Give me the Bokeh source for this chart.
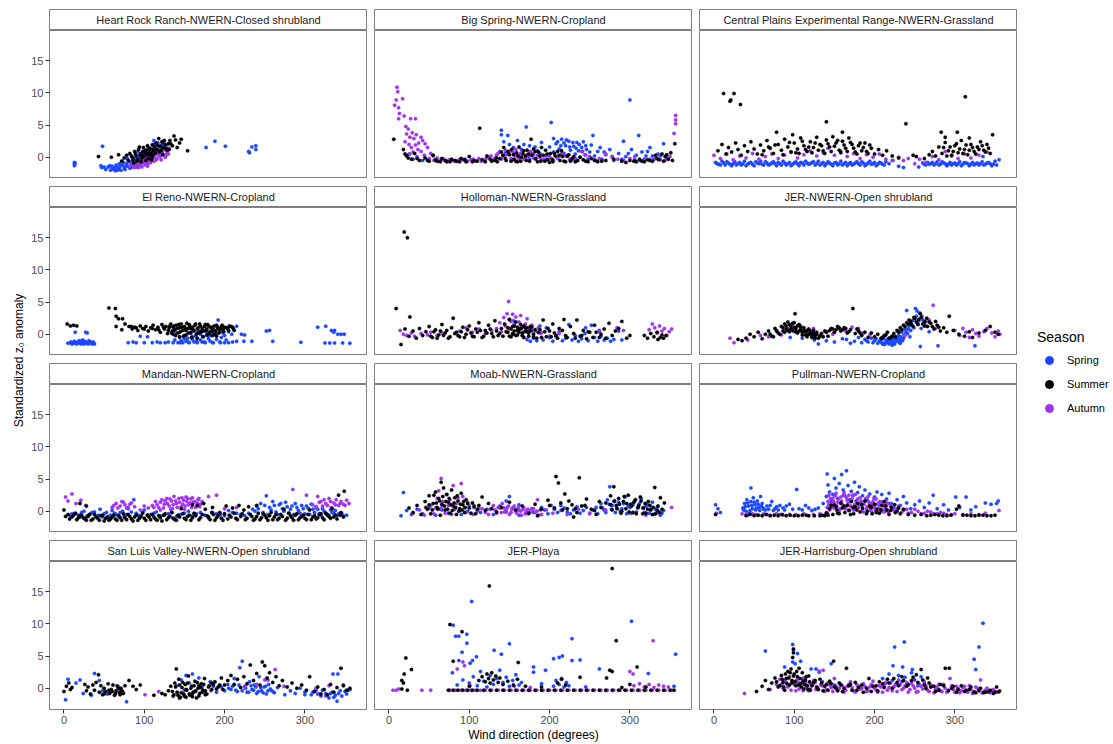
from bokeh.plotting import figure
from bokeh.layouts import row, column
from bokeh.models import Range1d, FixedTicker, LinearAxis, Legend, LegendItem, Label
from bokeh.embed import file_html
from bokeh.resources import INLINE

FONT = "Liberation Sans"
SEASONS = ["Spring", "Summer", "Autumn"]
COLORS = {"Spring": "#1a47ff", "Summer": "#000000", "Autumn": "#a033f0"}
Y_TICKS = [0, 5, 10, 15]
X_TICKS = [0, 100, 200, 300]

# ---------------- data: (wind direction, standardized z0 anomaly) ----------------
hr_spring = [(13,-0.8),(13,-1.1),(13,-1.3),(14,-0.9),(48,1.7),(46,-1.3),(47,-1.6),(52,-1.9),(55,-1.5),(58,-2.0),(60,-1.7),(62,-1.9),(64,-2.1),(66,-1.6),(68,-1.8),(70,-1.4),(71,-2.0),(73,-1.2),(75,-1.6),(76,-1.9),(78,-1.0),(80,-1.4),(82,-1.7),(83,-0.8),(85,-1.2),(86,-0.5),(88,-1.0),(90,-0.3),(91,-1.5),(93,0.2),(95,-0.6),(96,0.6),(98,-0.2),(100,1.0),(101,-1.0),(103,0.3),(105,1.4),(107,0.0),(109,0.8),(111,2.0),(112,2.6),(114,2.1),(116,1.2),(118,0.5),(120,1.6),(124,2.3),(128,1.9),(72,-0.6),(79,-0.2),(92,0.9),(50,-1.5),(57,-1.3),(177,1.5),(188,2.5),(201,1.7),(230,0.9),(231,0.7),(234,1.6),(239,1.8),(239,1.2),
             (60,-1.4),(65,-1.2),(69,-1.0),(74,-0.8),(77,-1.4),(81,-0.6),(84,-1.6),(87,-0.2),(89,-1.3),(94,-0.3),(97,0.3),(99,-0.8),(102,0.6),(106,0.5),(110,1.2),(113,1.5),(117,2.2),(122,2.0),(63,-1.6),(67,-2.0)]
hr_summer = [(43,0.1),(59,0.0),(68,0.4),(72,-0.6),(75,-0.1),(78,0.3),(80,-0.5),(82,0.6),(85,0.0),(87,-0.9),(88,0.9),(90,0.2),(92,-0.3),(93,1.2),(95,0.5),(96,-0.7),(98,0.9),(99,1.5),(100,0.1),(102,1.1),(103,0.6),(104,1.8),(105,-0.2),(106,0.9),(107,1.4),(108,0.3),(110,1.9),(111,1.0),(112,0.5),(113,1.6),(115,2.2),(116,1.2),(118,2.9),(119,0.8),(120,1.7),(122,2.4),(124,1.5),(126,2.0),(128,1.1),(130,2.1),(132,2.6),(135,1.8),(137,3.3),(139,2.7),(141,1.5),(144,2.2),(146,2.8),(154,1.0),(97,-0.1),(101,0.7),(109,-0.4),(94,1.6),
             (98,0.3),(102,-0.5),(104,0.4),(106,1.2),(108,0.6),(110,0.0),(112,1.3),(114,0.7),(117,1.8),(121,1.1),(123,0.4),(125,2.6),(127,1.4),(131,1.2),(133,2.1),(96,0.2),(91,-0.6),(89,0.5),(86,-0.4),(84,0.2)]
hr_autumn = [(82,-1.4),(85,-1.1),(88,-1.6),(90,-0.9),(92,-1.3),(94,-0.5),(95,-1.0),(97,-1.5),(98,-0.4),(100,-0.9),(101,-1.2),(102,0.0),(103,-0.6),(105,-1.0),(106,0.2),(107,-0.3),(108,-0.8),(110,0.5),(111,-0.1),(112,-0.6),(113,0.3),(115,0.8),(116,-0.2),(117,0.4),(119,1.0),(120,0.1),(121,-0.4),(123,0.6),(125,1.2),(127,0.3),(129,0.8),(130,0.5),(131,1.4),(104,-1.4),(99,0.4),(109,1.1),(114,1.3),
             (96,-1.2),(99,-0.7),(103,-1.1),(106,-0.5),(109,-0.2),(112,0.1),(115,-0.4),(118,0.7),(122,0.9),(126,0.0),(128,0.5),(93,-1.6),(91,-1.1),(87,-1.3)]

bs_spring = [(25,0.5),(30,-0.3),(42,-0.5),(58,-0.5),(95,-0.3),(140,4.2),(140,3.5),(148,3.4),(143,2.4),(150,2.0),(155,1.5),(160,2.6),(165,1.2),(171,4.7),(175,1.8),(180,0.5),(185,1.0),(190,2.3),(195,0.3),(200,1.6),(202,5.4),(205,0.8),(208,2.1),(210,0.0),(212,1.3),(215,2.8),(218,0.6),(220,1.8),(222,0.2),(224,2.5),(226,1.1),(228,-0.2),(230,1.7),(232,0.5),(234,2.3),(236,1.0),(238,0.0),(240,1.5),(242,2.4),(244,0.4),(246,1.2),(248,-0.3),(250,0.8),(254,3.4),(256,0.2),(260,0.9),(265,-0.3),(270,0.4),(275,1.2),(280,-0.5),(286,0.6),(292,2.5),(295,0.1),(300,8.9),(302,1.2),(306,-0.4),(311,3.4),(315,0.8),(320,0.2),(325,1.5),(330,-0.3),(335,0.5),(342,2.1),(346,-0.2),(160,0.2),(175,-0.3),(196,-0.4),(233,-0.6),(258,-0.5),
             (205,2.9),(210,2.4),(214,1.8),(218,2.2),(221,2.7),(225,1.6),(229,2.3),(233,1.4),(237,2.0),(241,0.9),(245,1.8),(252,1.9),(263,1.5),(268,0.8),(278,0.1),(290,-0.3),(298,0.6),(308,0.3),(318,-0.3),(322,0.9),(328,0.2),(338,0.2),(182,1.6),(188,0.6),(168,2.0),(152,1.0),(145,0.6)]
bs_summer = [(6,2.8),(18,1.2),(22,0.2),(28,-0.3),(32,0.6),(38,-0.5),(45,-0.1),(50,-0.6),(55,0.3),(60,-0.6),(66,-0.2),(72,-0.7),(78,-0.3),(84,-0.6),(90,-0.2),(96,-0.7),(100,0.1),(106,-0.5),(113,4.5),(116,-0.4),(122,0.2),(128,-0.6),(134,-0.1),(140,0.8),(143,1.5),(146,-0.5),(150,0.4),(153,1.2),(156,-0.3),(159,0.7),(162,1.6),(165,0.0),(168,1.0),(171,-0.5),(174,0.5),(177,2.8),(180,1.3),(183,-0.2),(186,0.8),(189,-0.6),(192,0.3),(195,1.1),(198,-0.4),(201,0.6),(204,-0.7),(207,0.2),(210,0.9),(213,-0.5),(216,0.1),(220,-0.7),(224,0.4),(228,-0.3),(232,-0.7),(238,0.0),(245,-0.6),(252,-0.2),(260,-0.7),(270,-0.5),(280,-0.3),(295,-0.8),(305,-0.6),(312,-0.3),(318,-0.7),(325,-0.5),(332,0.3),(336,-0.4),(340,0.5),(344,0.1),(348,-0.3),(351,0.7),(356,2.1),(135,-0.7),(160,-0.7),(185,-0.7),(200,-0.8),(145,-0.2),(170,0.2),(190,1.5),(215,1.0),
             (20,0.5),(24,-0.1),(35,-0.2),(48,-0.5),(58,-0.4),(64,-0.7),(70,-0.5),(76,-0.7),(82,-0.5),(88,-0.7),(94,-0.4),(104,-0.7),(110,-0.6),(120,-0.7),(126,-0.3),(132,-0.5),(138,-0.2),(142,0.3),(148,0.9),(152,-0.6),(155,0.4),(158,-0.6),(161,0.2),(164,-0.6),(167,0.5),(172,1.1),(175,-0.6),(178,0.3),(182,0.9),(188,0.2),(194,-0.6),(197,0.5),(203,-0.3),(206,0.6),(212,0.3),(218,-0.6),(222,0.2),(226,-0.6),(230,0.1),(235,-0.5),(242,-0.4),(248,-0.7),(256,-0.5),(265,-0.6),(290,-0.6),(300,-0.5),(308,-0.7),(315,-0.6),(322,-0.4),(328,-0.6),(334,-0.2),(342,-0.6),(346,0.4),(353,-0.5)]
bs_autumn = [(10,10.9),(11,10.2),(7,8.1),(12,7.7),(9,8.9),(17,9.1),(13,6.8),(12,6.0),(19,6.4),(27,6.0),(33,6.0),(21,4.8),(24,4.4),(29,3.8),(34,3.5),(40,3.1),(42,2.6),(22,3.6),(26,3.1),(31,2.9),(20,2.4),(25,2.0),(28,1.5),(33,1.9),(37,2.2),(45,2.1),(36,1.2),(40,0.9),(48,1.5),(30,0.8),(44,0.3),(52,0.6),(55,0.2),(60,-0.1),(65,-0.3),(70,-0.5),(75,-0.4),(82,-0.6),(88,-0.3),(95,-0.5),(102,-0.4),(108,-0.6),(112,-0.2),(118,-0.5),(124,0.0),(130,-0.4),(134,0.4),(138,0.9),(142,0.2),(145,1.1),(148,0.5),(152,-0.2),(155,0.7),(158,1.2),(160,0.1),(164,0.6),(168,-0.3),(172,0.4),(176,0.9),(180,-0.1),(185,0.3),(190,-0.4),(196,0.2),(205,-0.5),(215,0.6),(225,-0.3),(240,0.9),(250,0.1),(262,-0.2),(270,0.5),(285,-0.3),(300,-0.2),(312,-0.5),(325,-0.3),(338,-0.4),(357,6.5),(357,5.8),(357,5.2),(355,3.7),(350,0.1),(26,0.5),(35,0.1),(50,-0.2),
             (56,-0.5),(62,-0.6),(68,-0.3),(72,-0.6),(78,-0.5),(85,-0.6),(92,-0.4),(98,-0.6),(105,-0.3),(115,-0.6),(121,-0.2),(127,0.2),(132,-0.1),(136,0.6),(140,-0.3),(146,0.4),(150,0.9),(154,-0.4),(157,0.3),(162,-0.2),(166,0.9),(170,-0.2),(174,0.1),(178,0.6),(182,-0.3),(188,0.0),(193,-0.3),(200,0.1),(210,-0.2),(220,0.2),(232,-0.2),(245,0.3),(256,-0.4),(278,0.0),(292,-0.4),(306,0.1),(318,-0.4),(332,-0.2),(344,-0.5)]

cp_spring = [(2,-0.8),(6,-1.1),(10,-0.6),(14,-1.2),(18,-0.9),(22,-1.3),(26,-0.7),(30,-1.0),(34,-1.2),(38,-0.6),(42,-1.1),(46,-0.8),(50,-1.3),(54,-0.9),(58,-0.6),(62,-1.2),(66,-0.9),(70,-1.1),(74,-0.7),(78,-1.3),(82,-1.0),(86,-0.6),(90,-1.2),(94,-0.8),(98,-1.1),(102,-0.7),(106,-1.3),(110,-0.9),(114,-0.6),(118,-1.1),(122,-0.8),(126,-1.2),(130,-0.6),(134,-1.0),(138,-1.3),(142,-0.7),(146,-1.1),(150,-0.9),(154,-1.2),(158,-0.6),(162,-1.0),(166,-1.3),(170,-0.8),(174,-1.1),(178,-0.7),(182,-1.2),(186,-0.9),(190,-1.1),(194,-0.6),(198,-1.0),(202,-1.3),(206,-0.8),(210,-1.1),(214,-0.7),(218,-1.0),(223,-0.5),(230,-1.4),(236,-1.6),(255,-1.5),(262,-1.1),(266,-0.8),(270,-1.0),(274,-1.2),(278,-0.7),(282,-1.1),(286,-0.9),(290,-1.3),(294,-0.8),(298,-1.0),(302,-1.2),(306,-0.7),(310,-1.1),(314,-0.9),(318,-1.3),(322,-0.8),(326,-1.0),(330,-1.2),(334,-0.7),(338,-1.1),(342,-0.8),(346,-1.3),(350,-0.6),(355,-0.4),(352,-1.2),(335,0.1),
             (4,-1.0),(8,-1.2),(12,-0.9),(16,-0.7),(20,-1.1),(24,-1.0),(28,-1.2),(32,-0.8),(36,-1.0),(40,-1.3),(44,-0.9),(48,-1.1),(52,-0.7),(56,-1.0),(60,-1.1),(64,-0.7),(68,-1.2),(72,-0.9),(76,-1.0),(80,-0.8),(84,-1.2),(88,-0.9),(92,-1.0),(96,-1.3),(100,-0.9),(104,-1.0),(108,-0.8),(112,-1.2),(116,-0.9),(120,-1.0),(124,-0.7),(128,-1.0),(132,-1.2),(136,-0.8),(140,-1.0),(144,-0.9),(148,-1.3),(152,-0.8),(156,-1.0),(160,-1.2),(164,-0.8),(168,-1.0),(172,-1.2),(176,-0.9),(180,-1.0),(184,-0.7),(188,-1.3),(192,-0.9),(196,-1.1),(200,-0.8),(204,-1.1),(208,-0.9),(212,-1.2),(260,-0.9),(264,-1.2),(268,-1.1),(272,-0.8),(276,-1.0),(280,-1.2),(284,-0.7),(288,-1.0),(292,-1.1),(296,-1.2),(300,-0.9),(304,-1.0),(308,-1.3),(312,-0.8),(316,-1.0),(320,-1.1),(324,-1.2),(328,-0.9),(332,-1.0),(336,-1.2),(340,-0.9),(344,-1.0),(348,-1.1)]
cp_summer = [(12,9.9),(25,9.9),(20,8.7),(21,8.9),(33,8.2),(140,5.5),(239,5.2),(313,9.4),(78,3.9),(160,3.9),(283,3.9),(303,3.9),(347,3.5),(98,3.5),(5,1.0),(10,2.0),(15,0.5),(18,1.5),(22,0.8),(27,2.2),(30,1.2),(34,0.3),(38,1.8),(42,0.9),(46,2.4),(50,1.3),(54,0.5),(58,1.9),(62,1.0),(66,2.6),(70,1.4),(74,0.6),(80,2.0),(84,1.1),(88,2.8),(92,1.6),(96,0.8),(100,2.2),(104,1.3),(108,3.0),(112,1.8),(116,0.9),(120,2.4),(124,1.5),(128,3.1),(132,2.0),(136,1.0),(140,2.7),(144,1.6),(148,3.2),(152,2.2),(156,1.1),(160,2.5),(164,1.4),(168,3.0),(172,2.0),(176,0.8),(180,1.8),(184,1.0),(188,2.2),(192,0.6),(196,1.4),(200,0.5),(205,1.2),(210,0.3),(215,1.0),(222,0.2),(230,-0.1),(248,0.3),(252,0.1),(262,-0.2),(268,0.4),(272,0.9),(276,0.2),(280,1.6),(284,0.6),(288,2.3),(292,1.0),(296,0.3),(300,1.8),(304,0.7),(308,2.6),(312,1.2),(316,0.4),(320,2.0),(324,0.9),(328,1.6),(332,2.4),(336,1.1),(340,2.0),(344,0.6),(288,3.1),(318,3.0),
             (106,0.6),(110,2.5),(114,1.2),(118,1.6),(122,0.7),(126,2.2),(130,1.1),(134,1.8),(138,0.6),(142,2.1),(146,0.9),(150,1.7),(154,2.6),(158,0.7),(162,1.9),(166,0.9),(170,2.3),(174,1.4),(178,0.5),(182,2.2),(186,1.5),(190,0.9),(194,1.9),(286,1.5),(290,0.2),(294,1.6),(298,0.9),(302,2.1),(306,1.3),(310,0.6),(314,1.9),(318,1.1),(322,1.5),(326,0.5),(330,1.2),(334,1.8),(338,0.8),(342,1.4),(60,0.4),(68,1.6),(76,1.9),(86,0.4),(94,2.3),(102,0.7)]
cp_autumn = [(0,0.3),(8,-0.2),(16,0.5),(24,-0.4),(32,0.2),(40,-0.1),(48,0.6),(56,-0.3),(64,0.1),(72,0.5),(80,-0.2),(88,0.3),(96,0.8),(104,-0.1),(112,0.4),(120,1.0),(128,0.2),(136,0.7),(142,1.4),(150,0.3),(158,0.9),(166,0.1),(174,0.6),(182,-0.2),(190,0.4),(198,0.0),(206,0.5),(214,-0.3),(222,-0.5),(230,0.0),(236,-0.5),(242,-0.2),(250,-1.0),(256,-0.3),(264,-0.8),(272,0.1),(280,-0.4),(288,0.9),(296,0.2),(304,-0.2),(312,0.5),(320,-0.1),(330,0.3),(340,0.8)]

er_spring = [(5,-1.4),(8,-1.3),(10,-1.5),(12,-1.4),(14,-1.3),(16,-1.5),(18,-1.4),(20,-1.2),(22,-1.5),(24,-1.3),(26,-1.1),(28,-1.4),(30,-1.5),(32,-1.3),(34,-1.4),(36,-1.2),(38,-1.5),(14,0.3),(27,0.3),(29,0.2),(80,-1.3),(86,-1.2),(90,-1.3),(95,-0.3),(100,-1.3),(104,-0.4),(110,-1.3),(116,-1.2),(120,-1.3),(126,-1.3),(130,-1.2),(136,-1.3),(138,-0.9),(142,-1.3),(144,-0.5),(146,-1.0),(148,-1.3),(150,-0.2),(152,-1.1),(154,-0.6),(156,-1.3),(158,0.1),(160,-0.8),(162,-1.2),(164,-0.3),(166,-1.3),(168,0.5),(170,-0.9),(172,-1.2),(174,-0.4),(176,-1.3),(178,0.3),(180,-0.7),(182,-1.1),(184,-0.2),(186,-1.3),(188,0.6),(190,-0.8),(192,2.2),(194,-1.2),(196,-0.5),(198,0.2),(200,-1.3),(202,-0.9),(205,0.4),(209,0.0),(215,1.25),(215,-1.1),(221,0.0),(224,-1.1),(225,-0.1),(234,-1.1),(252,0.5),(256,0.6),(260,-1.1),(295,-1.25),(316,1.1),(326,1.25),(333,0.6),(336,0.3),(337,0.6),(341,0.0),(345,0.0),(349,0.0),(325,-1.35),(331,-1.35),(337,-1.35),(347,-1.35),(356,-1.4),(23,-0.9),(31,-1.0),(19,-1.0),
             (9,-1.2),(11,-1.4),(13,-1.1),(15,-1.4),(17,-1.2),(21,-1.4),(25,-1.5),(27,-1.2),(33,-1.2),(35,-1.5),(37,-1.3),(145,-1.3),(155,-1.2),(165,-1.1),(175,-1.2),(185,-1.3),(195,-1.3),(205,-1.3),(210,-1.2),(150,-0.7),(160,-0.4),(170,0.0),(180,-0.3),(190,0.0),(200,-0.2),(166,0.2),(176,0.5),(186,0.3)]
er_summer = [(4,1.6),(8,1.3),(12,1.4),(16,1.3),(56,4.1),(64,4.0),(65,2.8),(68,2.4),(73,2.4),(65,1.2),(76,1.6),(72,0.7),(81,1.2),(85,0.8),(88,1.1),(92,0.6),(95,1.3),(98,0.9),(102,1.2),(105,0.5),(108,1.0),(111,1.4),(114,0.7),(117,1.1),(120,0.3),(122,1.5),(125,0.8),(127,1.2),(129,0.1),(131,1.0),(133,1.6),(135,0.5),(137,1.3),(139,-0.2),(141,0.9),(143,1.5),(145,0.4),(147,1.1),(149,-0.3),(151,0.8),(153,1.7),(155,0.2),(157,1.2),(159,-0.5),(161,0.7),(163,1.4),(165,0.0),(167,1.0),(169,1.6),(171,0.4),(173,-0.4),(175,1.2),(177,0.6),(179,1.5),(181,0.1),(183,1.0),(185,-0.2),(187,1.3),(189,0.5),(191,1.1),(193,0.2),(195,0.9),(197,1.4),(199,0.4),(202,1.0),(205,0.6),(208,1.2),(211,0.8),(136,0.0),(144,-0.4),(152,0.6),(158,0.9),(166,-0.6),(170,0.3),(178,-0.1),(184,0.5),(190,-0.3),
             (130,0.6),(132,1.3),(134,0.2),(136,1.1),(138,0.7),(140,1.4),(142,0.2),(144,1.0),(146,1.6),(148,0.6),(150,1.2),(152,-0.1),(154,0.9),(156,1.5),(158,0.3),(160,1.1),(162,0.5),(164,1.6),(166,0.8),(168,0.2),(170,1.3),(172,0.9),(174,0.5),(176,1.5),(178,0.8),(180,1.3),(182,0.4),(184,1.1),(186,0.7),(188,0.0),(190,1.4),(192,0.9),(194,0.4),(196,1.2),(198,0.7),(200,1.1),(204,0.9),(206,1.3),(210,1.1),(212,0.6),(100,0.8),(110,0.9),(118,0.7),(124,1.1),(90,1.0),(84,1.2)]
er_autumn = [(139,0.3)]

ho_spring = [(150,2.3),(155,2.1),(172,-0.8),(176,-1.1),(180,-0.6),(184,-1.0),(188,0.2),(192,-0.9),(196,1.0),(200,-0.5),(204,-1.1),(208,-0.3),(212,0.4),(216,-1.0),(220,-0.6),(224,1.5),(228,-0.9),(232,-0.2),(236,-1.1),(240,-0.7),(244,0.1),(248,-1.0),(252,1.4),(256,-0.5),(260,-1.1),(264,-0.3),(268,-0.9),(272,-0.6),(276,-1.1),(280,-0.8),(286,0.5),(290,-0.9),(178,0.5),(188,1.3),(245,1.0),(262,0.6)]
ho_summer = [(19,15.9),(23,15.0),(9,4.0),(26,2.7),(15,-1.6),(20,0.8),(25,-0.3),(30,0.5),(34,-0.6),(38,0.9),(42,-0.2),(46,0.4),(50,1.2),(54,-0.5),(58,0.7),(62,-0.1),(66,1.5),(70,0.2),(74,-0.6),(78,1.0),(80,2.5),(84,0.3),(88,-0.4),(92,1.1),(96,0.0),(100,1.3),(104,-0.3),(108,0.8),(112,1.8),(116,-0.5),(120,0.6),(124,1.4),(128,0.1),(132,2.1),(136,-0.2),(140,0.9),(144,1.6),(148,0.3),(150,2.3),(152,-0.4),(154,1.2),(156,0.5),(158,1.9),(160,-0.1),(162,0.8),(164,1.5),(166,0.2),(168,-0.5),(170,1.0),(172,0.4),(174,-0.3),(176,1.2),(180,0.0),(184,-0.6),(188,0.7),(192,2.2),(196,-0.4),(200,0.5),(204,1.6),(208,-0.2),(212,0.9),(218,2.3),(222,-0.5),(226,1.2),(230,0.1),(234,2.2),(238,-0.3),(242,0.6),(246,-0.7),(250,0.3),(256,1.4),(262,-0.5),(268,0.8),(274,1.7),(278,-0.2),(282,0.5),(290,2.0),(296,-0.6),(318,-0.2),(322,-0.6),(326,0.1),(330,-0.4),(334,0.3),(338,-0.5),(345,-0.2),(160,0.6),(155,0.0),(165,0.9),
             (146,0.4),(148,1.0),(150,-0.3),(152,0.8),(154,0.1),(156,1.3),(158,-0.2),(160,1.1),(162,0.3),(164,0.9),(166,-0.2),(168,1.3),(170,0.5),(172,1.0),(174,0.2),(176,0.6),(178,1.1),(180,-0.4),(182,0.7),(186,0.3),(190,-0.5),(194,0.4),(198,0.9),(202,-0.4),(206,0.2),(210,-0.6),(216,0.6),(220,-0.2),(232,-0.6),(240,-0.2),(248,0.4),(254,-0.5),(258,0.3),(264,0.0),(270,-0.6),(286,0.9),(300,-0.2),(52,-0.3),(56,0.4),(60,-0.6),(64,0.5),(68,-0.2),(72,0.6),(76,-0.4),(82,0.1),(86,-0.2),(90,0.4),(94,-0.5),(98,0.7),(102,0.2),(106,-0.4),(110,0.3),(114,0.6),(118,-0.3),(122,0.2),(126,0.8),(130,-0.4),(134,0.5),(138,0.1),(142,-0.3),(335,-0.8),(340,-0.1),(342,-0.6)]
ho_autumn = [(14,0.6),(18,0.0),(22,-0.2),(28,0.2),(32,-0.3),(40,0.1),(48,-0.1),(52,0.3),(60,-0.2),(66,0.2),(88,0.5),(96,1.0),(104,0.3),(112,0.8),(120,0.1),(128,0.6),(134,0.9),(138,1.8),(140,0.4),(143,2.6),(145,1.3),(147,3.2),(149,5.1),(150,0.9),(152,2.0),(154,3.1),(156,1.5),(158,2.7),(160,0.7),(162,1.9),(164,2.9),(166,1.1),(168,0.3),(170,1.6),(172,2.4),(175,0.8),(178,1.4),(182,0.5),(186,1.0),(190,0.2),(200,-0.3),(212,0.1),(262,0.4),(284,1.0),(292,0.6),(324,0.7),(328,1.6),(331,1.0),(334,0.2),(337,1.3),(340,0.5),(343,0.9),(346,-0.2),(349,0.4),(352,0.8)]

jn_spring = [(175,-1.1),(180,-0.5),(184,-1.3),(188,-0.8),(192,-1.2),(196,-0.6),(200,-1.0),(204,-1.4),(208,-0.9),(210,-1.5),(212,-0.3),(214,-1.2),(216,-0.8),(218,-1.5),(220,-1.0),(222,-0.5),(224,-1.3),(226,-0.7),(228,-1.1),(230,-0.2),(232,-0.9),(234,0.3),(236,-0.6),(238,0.8),(240,3.7),(241,0.1),(243,1.3),(245,0.6),(247,2.1),(249,1.0),(251,4.0),(252,2.8),(254,1.6),(256,3.3),(258,0.9),(260,2.2),(264,1.3),(268,0.4),(279,-1.8),(257,-1.9),(325,-1.8),(170,-1.4),(165,-0.8),(160,-0.7),(150,-1.2),(140,-1.0),(130,-1.5),(125,-0.9),(110,-0.6),(95,-0.5),(212,-1.6),(222,-1.7),(232,-1.4),(244,-0.4),
             (206,-1.1),(209,-1.3),(211,-0.7),(213,-1.5),(215,-1.0),(217,-1.3),(219,-0.6),(221,-1.4),(223,-0.9),(225,-1.5),(227,-1.0),(229,-0.6),(231,-1.3),(233,-0.4),(235,-1.0),(237,-0.1),(239,0.4),(242,0.8),(246,1.6),(250,2.5),(253,3.6),(255,2.1),(259,2.8),(262,1.8),(190,-1.0),(198,-1.3),(202,-0.7)]
jn_summer = [(30,-0.8),(35,-1.0),(40,-0.6),(45,0.0),(50,-0.4),(55,0.3),(60,-0.7),(64,0.0),(68,0.5),(72,-0.3),(76,0.9),(80,0.2),(84,1.2),(86,0.5),(88,1.6),(90,0.8),(92,1.9),(94,0.4),(96,1.3),(98,0.6),(100,1.8),(101,3.2),(102,0.9),(104,0.2),(106,1.5),(108,0.7),(110,-0.1),(112,1.0),(114,0.4),(116,-0.4),(118,0.8),(120,0.1),(122,-0.5),(124,0.6),(126,-0.2),(128,0.3),(130,-0.6),(134,0.1),(138,0.5),(142,-0.3),(146,0.9),(150,0.3),(154,1.2),(158,0.5),(162,1.0),(166,0.2),(170,0.7),(173,4.0),(176,0.1),(180,0.5),(184,-0.2),(188,0.3),(192,-0.5),(196,0.2),(200,-0.4),(204,0.0),(208,-0.6),(212,-0.2),(216,0.3),(220,-0.5),(224,0.1),(228,0.6),(232,1.0),(236,1.4),(240,1.8),(243,2.2),(246,1.5),(249,2.6),(252,1.9),(255,2.3),(257,3.2),(260,1.6),(263,2.0),(266,1.2),(270,1.7),(274,0.8),(278,1.4),(282,0.5),(286,1.0),(290,0.3),(293,2.8),(298,0.6),(305,0.0),(312,-0.3),(318,0.4),(322,-0.5),(330,0.2),(338,0.6),(344,1.2),(350,0.3),(354,0.0),
             (70,0.0),(74,-0.4),(78,0.5),(82,0.0),(86,1.0),(88,0.3),(90,1.3),(92,0.6),(94,1.5),(96,0.9),(98,1.7),(100,1.1),(102,0.4),(104,1.3),(106,0.5),(108,1.1),(110,0.3),(112,0.6),(114,-0.1),(116,0.6),(118,0.0),(120,0.5),(122,-0.2),(124,0.2),(126,-0.6),(128,0.0),(132,-0.3),(136,-0.4),(140,0.3),(144,0.6),(148,0.8),(152,0.7),(156,1.0),(160,0.7),(164,0.9),(168,0.4),(178,0.8),(182,0.2),(210,-0.5),(214,-0.1),(218,-0.6),(222,-0.3),(226,-0.4),(230,0.3),(234,0.7),(238,1.2),(242,1.6),(245,2.0),(248,1.2),(250,2.4),(254,1.5),(258,2.6),(262,1.3),(265,2.5),(268,1.9),(272,1.2),(276,2.0),(280,1.1)]
jn_autumn = [(20,-0.6),(25,-1.3),(42,-0.9),(58,-0.2),(68,-0.4),(78,0.6),(84,-0.1),(92,0.9),(100,0.4),(108,1.3),(116,0.2),(124,0.9),(132,-0.2),(140,0.4),(148,0.0),(156,0.8),(164,0.5),(172,1.1),(180,0.9),(186,0.2),(194,-0.1),(230,0.5),(238,-0.2),(262,1.5),(268,2.2),(273,4.5),(276,0.9),(300,0.6),(306,-0.2),(310,0.9),(314,0.3),(318,-0.5),(322,0.7),(326,0.1),(330,-0.3),(336,0.4),(340,0.9),(346,0.2),(350,-0.4),(354,0.5),(356,0.0)]

ma_spring = [(8,-0.7),(15,-0.4),(20,-0.9),(25,0.0),(30,-0.6),(35,-0.2),(40,-0.8),(45,0.3),(50,-0.4),(55,-0.9),(60,0.1),(65,-0.5),(70,-0.2),(75,-0.8),(80,0.4),(87,1.8),(90,-0.3),(95,-0.7),(100,0.2),(108,-0.5),(115,-0.1),(125,-0.6),(135,-0.2),(145,-0.5),(155,0.0),(165,-0.4),(175,-0.6),(185,-0.2),(195,-0.5),(205,0.1),(215,-0.3),(225,-0.7),(235,0.3),(240,0.8),(245,1.2),(248,-0.2),(252,2.4),(256,0.6),(260,1.5),(264,-0.1),(268,1.0),(272,0.4),(276,1.4),(280,-0.3),(284,0.8),(288,1.2),(292,0.1),(296,0.9),(300,-0.4),(304,0.5),(308,1.1),(312,-0.2),(316,0.3),(320,-0.6),(324,0.0),(328,-0.5),(332,0.2),(336,-0.3),(340,-0.7),(346,-0.4),(352,-0.6),
             (10,-0.4),(18,-0.6),(22,-0.2),(28,-0.8),(33,-0.4),(38,-0.1),(43,-0.6),(48,-0.9),(53,-0.2),(58,-0.6),(63,-0.3),(68,-0.7),(73,0.0),(78,-0.5),(84,-0.1),(92,-0.6),(98,-0.2),(104,-0.6),(112,-0.3),(120,-0.7),(130,-0.4),(140,-0.8),(150,-0.3),(160,-0.7),(170,-0.2),(180,-0.8),(190,-0.4),(200,-0.7),(210,-0.2),(220,-0.5),(230,-0.3),(238,0.0),(242,0.4),(250,0.9),(254,-0.5),(258,0.2),(262,0.9),(266,-0.5),(270,1.2),(274,0.0),(278,0.7),(282,0.3),(286,-0.5),(290,0.6),(294,-0.3),(298,0.4),(302,0.8),(306,-0.5),(310,0.3),(314,0.7),(318,-0.4),(322,0.4),(326,-0.3),(330,-0.6),(334,-0.2),(338,0.1),(342,-0.4),(348,-0.7)]
ma_summer = [(0,0.2),(5,-0.5),(10,-0.9),(14,-0.3),(18,-1.0),(22,-0.6),(26,-1.2),(30,-0.8),(34,-1.4),(38,-0.5),(42,-1.1),(46,-0.7),(50,-1.5),(54,-0.9),(58,-1.2),(62,-0.6),(66,-1.4),(70,-1.0),(74,-0.4),(78,-1.3),(82,-0.8),(86,-1.5),(90,-0.6),(94,-1.1),(98,-0.3),(102,-1.4),(106,-0.9),(110,-0.5),(114,-1.2),(118,-0.7),(122,-1.5),(126,-0.4),(130,-1.0),(134,-0.2),(138,-1.3),(142,-0.6),(146,0.4),(150,-1.1),(154,-0.8),(158,-1.4),(162,-0.3),(166,0.9),(170,-1.0),(174,1.2),(176,0.3),(178,-0.7),(182,-1.3),(186,-0.5),(190,-1.0),(194,-0.2),(198,-1.4),(202,0.8),(206,-0.6),(210,0.5),(214,-1.1),(218,0.9),(222,-0.4),(226,-1.3),(230,0.7),(234,-0.8),(238,-1.2),(242,-0.3),(246,-1.0),(250,-0.6),(254,-1.4),(258,-0.2),(262,-0.9),(266,-1.3),(270,-0.5),(274,0.3),(278,-1.1),(282,-0.7),(286,-1.4),(290,-0.4),(294,-1.0),(298,-0.6),(302,-1.3),(306,0.2),(310,-0.9),(314,-1.2),(318,-0.5),(322,-1.0),(326,-0.3),(330,-0.8),(334,0.4),(338,-0.6),(342,2.5),(349,3.1),(345,-0.2),(20,1.2),(28,0.8),(160,1.0),(185,0.6),(240,0.9),
             (2,-0.8),(7,-1.2),(12,-0.6),(16,-1.3),(20,-0.7),(24,-1.0),(28,-1.4),(32,-0.5),(36,-1.2),(40,-0.9),(44,-1.4),(48,-0.6),(52,-1.1),(56,-1.4),(60,-0.9),(64,-1.2),(68,-0.7),(72,-1.4),(76,-1.0),(80,-0.5),(84,-1.2),(88,-0.9),(92,-1.4),(96,-0.8),(100,-1.1),(104,-0.6),(108,-1.3),(112,-0.9),(116,-1.4),(120,-1.0),(124,-0.6),(128,-1.3),(132,-0.8),(136,-1.1),(140,-1.4),(144,-0.9),(148,-0.4),(152,-1.3),(156,-0.6),(160,-1.0),(164,-0.7),(168,-1.3),(172,-0.5),(180,-1.0),(184,-0.2),(188,-1.4),(192,-0.7),(196,-1.1),(200,-0.4),(204,-1.2),(208,-0.9),(212,-0.3),(216,-1.3),(220,-0.8),(224,0.2),(228,-1.1),(232,-0.5),(236,-1.4),(240,-0.8),(244,-1.3),(248,-0.4),(252,-1.0),(256,-0.7),(260,-1.3),(264,-0.5),(268,-1.1),(272,-0.8),(276,-1.4),(280,-0.3),(284,-1.0),(288,-0.6),(292,-1.3),(296,-0.8),(300,-1.1),(304,-0.5),(308,-1.3),(312,-0.7),(316,-1.0),(320,-0.4),(324,-1.3),(328,-0.6),(332,-1.1),(336,-0.9),(340,-1.2),(344,-0.6),(348,-0.9)]
ma_autumn = [(2,2.2),(10,2.7),(21,1.7),(27,0.9),(5,1.6),(15,1.2),(60,0.6),(65,1.2),(70,0.8),(74,1.4),(78,0.5),(82,1.1),(88,0.7),(95,0.2),(105,0.5),(110,0.9),(114,1.5),(118,0.6),(122,1.8),(125,1.1),(128,2.0),(131,0.8),(134,1.6),(137,2.3),(140,1.2),(143,2.0),(146,0.7),(149,1.7),(152,2.2),(155,1.0),(158,1.9),(161,1.4),(164,0.6),(167,1.8),(170,1.1),(180,2.3),(190,2.5),(200,0.4),(215,0.6),(285,3.4),(302,2.5),(316,2.3),(310,1.0),(314,0.5),(318,1.4),(322,0.8),(326,1.2),(330,2.0),(333,0.6),(336,1.3),(339,1.8),(342,0.9),(345,1.5),(348,1.1),(352,1.7),(355,1.2),(120,0.2),(135,0.4),(150,0.3),
             (112,0.6),(116,1.0),(120,1.4),(124,0.5),(126,1.6),(129,1.2),(132,1.9),(133,0.3),(136,1.0),(139,1.6),(141,0.6),(144,1.4),(147,2.1),(148,1.1),(151,0.8),(153,1.5),(154,2.0),(157,1.3),(159,0.6),(160,2.1),(163,1.5),(166,1.2),(168,2.0),(169,0.7),(172,1.5),(62,0.9),(67,0.5),(72,1.5),(76,1.0),(80,0.6),(84,1.3),(100,0.8),(320,1.5),(324,1.8),(328,0.9),(332,1.5),(338,1.0),(344,1.2),(350,0.9)]

mo_spring = [(18,2.9),(15,-0.7),(22,0.1),(28,-0.5),(35,0.3),(42,-0.4),(50,0.5),(58,-0.6),(66,0.2),(74,-0.3),(82,0.4),(90,-0.5),(98,0.0),(106,0.6),(114,-0.2),(122,0.3),(130,-0.5),(138,0.8),(146,-0.1),(154,0.5),(162,1.0),(170,-0.3),(178,0.4),(186,-0.6),(194,0.2),(202,0.9),(210,-0.2),(218,0.5),(226,-0.4),(234,0.7),(242,0.1),(250,-0.3),(258,0.6),(264,1.2),(268,0.2),(272,1.8),(275,3.8),(278,0.9),(282,-0.2),(286,1.4),(290,0.4),(294,2.2),(298,0.8),(302,-0.3),(306,1.6),(310,0.5),(314,2.0),(318,-0.2),(322,1.0),(326,0.3),(330,-0.5),(334,0.6),(338,-0.6),(342,0.1),(146,1.6),(150,2.3),(162,-0.6),
             (266,0.5),(270,-0.2),(274,1.1),(277,0.3),(280,1.5),(284,0.5),(288,0.0),(292,1.2),(296,-0.4),(300,0.6),(304,1.0),(308,-0.1),(312,1.2),(316,0.5),(320,0.8),(324,-0.3),(328,1.4),(332,0.3),(336,-0.1),(340,-0.3),(180,-0.2),(190,0.6),(198,-0.4),(206,0.3),(214,0.9),(222,-0.1),(230,0.2),(238,-0.3),(246,0.6),(254,0.2),(260,-0.4)]
mo_summer = [(25,0.5),(30,-0.2),(35,0.9),(40,-0.5),(45,1.5),(48,0.3),(50,2.4),(52,-0.4),(55,1.2),(58,3.0),(60,0.6),(62,2.0),(64,-0.6),(65,4.5),(66,1.1),(68,3.6),(70,0.2),(72,2.6),(74,1.4),(76,-0.3),(78,3.3),(80,0.8),(82,2.1),(84,-0.5),(86,1.6),(88,0.4),(90,2.8),(92,1.0),(94,-0.2),(96,1.8),(100,0.5),(104,1.3),(108,-0.4),(112,0.9),(116,2.2),(120,0.1),(124,1.2),(128,0.4),(134,-0.1),(140,0.6),(150,1.4),(158,0.2),(166,0.8),(174,-0.3),(182,1.1),(190,0.3),(198,1.7),(206,0.5),(208,5.4),(211,4.4),(214,1.3),(219,2.7),(222,0.4),(228,1.0),(234,-0.2),(237,5.2),(240,0.8),(246,1.9),(252,0.3),(258,-0.5),(264,0.6),(270,1.3),(276,2.4),(280,3.8),(283,0.9),(286,2.0),(289,-0.3),(292,1.5),(295,0.4),(298,2.5),(301,1.1),(304,-0.2),(307,1.8),(310,0.6),(313,2.2),(316,-0.4),(319,1.2),(322,0.3),(325,0.9),(328,-0.5),(331,3.7),(334,0.1),(338,2.1),(343,1.3),(230,-0.9),(185,-0.7),
             (46,0.6),(50,1.0),(54,0.2),(56,2.5),(59,1.3),(61,0.3),(63,1.6),(67,2.3),(69,0.8),(71,1.5),(73,0.3),(75,2.0),(77,1.0),(79,0.1),(81,1.3),(83,0.6),(85,2.4),(87,0.0),(89,1.1),(91,0.2),(93,1.5),(95,0.6),(98,1.2),(102,-0.3),(106,0.8),(110,0.3),(276,1.0),(278,0.2),(281,1.6),(284,0.4),(287,1.1),(290,0.0),(293,2.3),(296,1.2),(299,-0.1),(302,0.8),(305,1.4),(308,-0.4),(311,0.9),(314,1.6),(317,0.5),(320,-0.3),(323,1.5),(326,0.2),(329,0.6),(332,-0.4),(335,0.8),(337,-0.2),(340,0.3),(200,0.9),(216,0.2),(224,1.6),(232,0.4),(244,0.9),(256,0.1),(262,1.5)]
mo_autumn = [(30,-0.3),(38,0.2),(44,-0.6),(52,0.8),(56,-0.4),(60,2.0),(62,3.2),(64,0.4),(65,5.1),(67,1.5),(70,-0.3),(72,2.6),(74,0.9),(78,-0.5),(80,4.0),(84,1.2),(88,0.2),(90,4.3),(92,2.3),(96,-0.2),(100,0.9),(105,-0.5),(112,0.4),(120,-0.2),(126,0.3),(130,0.9),(134,-0.3),(138,0.5),(141,1.2),(144,-0.1),(147,0.6),(150,-0.5),(153,0.3),(156,0.8),(159,-0.3),(162,0.2),(165,-0.6),(168,0.5),(171,0.0),(174,-0.4),(178,0.3),(182,-0.2),(185,1.8),(190,-0.5),(196,0.2),(204,-0.3),(214,0.1),(222,-0.5),(236,0.3),(250,-0.4),(270,0.2),(300,-0.3),(320,-0.6),(335,-0.2),(352,0.6),
             (132,0.2),(136,0.6),(140,-0.2),(143,0.5),(146,0.2),(149,0.8),(152,-0.2),(155,0.4),(158,0.0),(161,0.6),(164,0.0),(167,0.3),(170,-0.4),(173,0.3),(176,-0.1),(180,0.4),(184,0.0),(188,0.2),(58,0.5),(66,0.8),(76,1.8),(82,0.3),(86,2.1),(94,0.5),(98,1.4),(110,0.0),(116,0.4),(124,-0.5)]

pu_spring = [(2,1.0),(5,0.4),(8,-0.2),(36,0.5),(38,1.2),(40,0.0),(41,1.8),(43,0.8),(44,-0.3),(46,3.6),(46,1.5),(48,0.4),(49,2.1),(51,1.0),(52,0.2),(54,1.6),(56,0.6),(58,2.3),(60,1.2),(62,0.3),(66,0.8),(72,1.5),(76,0.4),(82,0.9),(88,0.2),(94,1.1),(103,3.4),(106,0.4),(114,0.9),(122,0.1),(130,0.5),(136,1.2),(140,2.3),(141,5.8),(142,4.1),(144,3.0),(146,1.5),(148,2.6),(150,5.1),(152,3.6),(154,2.0),(156,4.3),(158,1.2),(159,5.7),(161,3.3),(163,2.4),(165,6.3),(167,4.0),(169,1.8),(171,3.1),(173,2.5),(175,4.5),(177,1.6),(179,2.9),(181,3.8),(183,1.2),(185,2.4),(188,3.3),(191,1.7),(194,2.7),(197,1.0),(200,2.2),(203,3.0),(206,1.4),(209,2.6),(212,0.9),(215,1.9),(218,2.8),(221,1.2),(224,0.5),(228,1.8),(232,0.9),(236,2.3),(240,1.3),(245,0.4),(250,1.0),(256,1.6),(262,0.6),(268,1.3),(273,2.5),(278,0.4),(286,1.0),(292,0.2),(301,2.2),(306,0.6),(314,2.2),(320,0.2),(326,0.7),(338,1.3),(345,1.1),(352,1.2),(354,1.6),
             (37,0.2),(39,0.7),(42,1.3),(45,0.1),(47,0.9),(50,1.4),(53,0.5),(55,1.1),(57,0.1),(59,0.8),(61,0.5),(64,0.2),(68,0.3),(70,0.9),(74,0.1),(78,0.7),(80,0.2),(86,0.5),(90,0.8),(98,0.3),(110,0.2),(118,0.5),(126,0.3)]
pu_summer = [(2,-0.5),(40,-0.7),(45,-0.5),(50,-0.7),(55,-0.6),(60,-0.7),(65,-0.5),(70,-0.7),(75,-0.6),(80,-0.7),(85,-0.5),(90,-0.7),(95,-0.6),(100,-0.7),(110,-0.6),(118,-0.7),(125,-0.7),(135,-0.6),(140,-0.3),(144,0.4),(148,-0.5),(150,1.0),(153,0.2),(156,-0.4),(158,1.3),(160,0.5),(163,-0.2),(166,0.9),(168,0.1),(171,1.5),(174,-0.4),(176,0.7),(179,1.2),(182,-0.1),(185,0.5),(188,1.6),(191,0.0),(194,0.8),(197,-0.4),(200,1.1),(203,0.3),(206,-0.3),(209,0.9),(212,1.5),(215,0.2),(218,-0.5),(221,0.6),(225,1.0),(228,0.0),(232,-0.4),(236,0.3),(242,-0.5),(250,-0.6),(258,-0.5),(265,-0.7),(275,-0.5),(285,-0.7),(295,-0.6),(302,0.3),(310,-0.6),(320,-0.7),(330,-0.6),(340,-0.7),(350,-0.6),(305,0.8),
             (142,-0.6),(146,0.9),(152,0.7),(154,-0.3),(162,0.8),(170,-0.5),(173,0.6),(178,0.2),(184,1.1),(190,-0.4),(196,0.6),(202,-0.2),(208,0.2),(214,0.8),(220,0.1),(226,-0.2),(230,0.5),(138,-0.7),(132,-0.7),(105,-0.7),(115,-0.6),(270,-0.6),(280,-0.6),(290,-0.7),(315,-0.6),(325,-0.7),(335,-0.6),(345,-0.7)]
pu_autumn = [(3,-0.3),(35,-0.4),(42,-0.6),(48,-0.4),(55,-0.6),(62,-0.4),(70,-0.6),(78,-0.4),(86,-0.6),(94,-0.5),(140,-0.2),(141,0.6),(142,1.5),(143,2.5),(144,0.2),(146,1.1),(148,2.0),(150,0.5),(152,2.8),(154,1.4),(156,0.1),(158,2.2),(160,1.0),(162,2.9),(164,0.4),(166,1.7),(168,2.5),(170,0.8),(172,1.9),(174,0.2),(176,2.6),(178,1.3),(180,0.6),(182,2.1),(184,1.0),(186,-0.1),(188,1.6),(190,0.4),(192,2.3),(194,1.1),(196,0.0),(198,1.5),(200,0.6),(202,1.9),(204,-0.2),(206,1.0),(208,0.3),(210,1.4),(212,-0.1),(214,0.8),(216,0.2),(218,1.2),(222,0.5),(226,-0.2),(230,0.8),(236,0.1),(242,-0.3),(250,0.3),(258,-0.4),(266,0.0),(274,-0.4),(282,-0.2),(290,-0.5),(300,-0.4),(310,-0.5),(320,-0.4),(330,-0.5),(355,0.1),(338,-0.3),
             (141,-0.3),(143,1.0),(145,2.0),(147,0.6),(149,1.5),(151,2.4),(153,0.8),(155,1.9),(157,0.4),(159,1.6),(161,2.5),(163,0.6),(165,2.1),(167,1.2),(169,0.2),(171,1.6),(173,2.4),(175,1.0),(177,0.4),(179,1.9),(181,0.9),(183,1.6),(185,0.2),(187,1.1),(189,2.0),(191,0.7),(193,1.4),(195,0.3),(197,1.2),(199,2.0),(201,0.2),(203,1.1),(205,0.5),(207,1.5),(209,0.0),(211,0.9),(213,0.4),(215,1.3),(217,-0.1),(220,0.8),(224,0.2),(228,0.4),(234,-0.1),(240,0.3),(246,-0.2),(254,0.0),(262,-0.3),(270,-0.1),(278,-0.4),(286,-0.3),(296,-0.5),(40,-0.5),(52,-0.5),(66,-0.5),(82,-0.5),(102,-0.5),(112,-0.4),(124,-0.5),(132,-0.4)]

sl_spring = [(2,-1.8),(5,1.4),(15,0.8),(20,1.3),(38,2.3),(44,1.2),(78,-2.1),(24,-0.8),(34,-1.1),(48,-0.4),(54,-0.9),(66,0.4),(70,-0.2),(140,0.4),(146,1.3),(150,-0.3),(152,2.0),(156,0.8),(160,2.2),(164,-0.5),(168,1.6),(172,0.2),(176,-0.8),(182,1.0),(186,0.3),(190,-0.6),(196,0.2),(200,-0.4),(204,0.6),(208,-0.2),(212,1.5),(216,-0.5),(219,3.2),(222,4.2),(225,0.3),(228,-0.6),(231,1.0),(234,-0.2),(237,0.5),(240,-0.8),(243,1.8),(246,-0.4),(249,0.2),(252,-0.9),(255,0.6),(258,-0.3),(262,-0.7),(266,0.1),(275,-1.0),(282,-0.4),(288,-0.8),(294,0.0),(300,-0.6),(308,-1.0),(314,-0.3),(320,-1.2),(326,-0.8),(330,-1.5),(334,-0.6),(335,2.2),(338,-1.1),(340,-2.0),(341,2.2),(344,-0.4),(348,0.5),(352,-0.9),(356,-0.2),
             (205,0.0),(210,0.3),(214,-0.3),(218,0.5),(222,-0.4),(226,0.0),(230,-0.6),(233,0.4),(236,-0.3),(239,0.2),(242,-0.5),(245,0.1),(248,-0.7),(251,0.3),(254,-0.4),(257,-0.1),(260,-0.5),(300,-1.0),(310,-0.6),(316,-0.9),(322,-0.3),(328,-1.1),(332,-0.8),(336,-1.4),(342,-0.8),(346,-1.2),(350,-0.5),(354,-0.3)]
sl_summer = [(0,-0.5),(3,0.3),(6,0.8),(8,-0.2),(10,0.1),(26,0.6),(28,-0.4),(30,0.2),(33,-0.9),(36,0.5),(38,-0.3),(40,0.9),(43,2.1),(44,-0.6),(46,0.4),(48,-1.0),(50,0.0),(52,-0.5),(55,0.7),(57,-0.8),(59,-0.2),(61,0.5),(63,-1.1),(65,-0.4),(67,0.3),(69,-0.7),(71,0.0),(73,-0.5),(76,0.4),(81,1.2),(86,0.3),(90,-0.2),(95,0.5),(112,-1.1),(122,-0.8),(126,-1.0),(130,-0.4),(133,0.3),(136,-1.2),(138,0.8),(140,3.0),(141,-0.6),(143,1.4),(145,-1.4),(147,0.1),(149,-0.9),(151,0.6),(153,-0.3),(155,1.9),(157,-1.1),(159,0.3),(161,-0.6),(163,1.1),(165,-1.5),(167,0.0),(169,-0.8),(171,0.7),(173,-0.3),(175,1.5),(178,-0.9),(181,0.4),(184,-0.2),(188,1.0),(192,0.2),(196,1.6),(200,0.5),(204,1.2),(208,2.0),(212,0.6),(216,1.4),(220,0.1),(224,1.8),(228,0.7),(232,3.6),(236,1.2),(240,2.3),(244,0.5),(247,4.1),(250,3.5),(253,1.6),(256,2.4),(260,0.9),(264,1.8),(268,0.4),(272,1.2),(278,0.2),(284,0.8),(290,0.0),(296,0.5),(302,-0.3),(306,1.8),(312,-0.5),(316,0.2),(320,-0.9),(324,-0.2),(328,-1.0),(332,0.6),(336,-0.6),(340,0.1),(345,3.1),(348,0.4),(352,-0.3),(356,0.0),
             (135,-0.5),(137,-1.0),(139,0.2),(142,-1.1),(144,0.5),(146,-0.7),(148,0.9),(150,-1.2),(152,-0.2),(154,0.8),(156,-0.9),(158,0.0),(160,-1.3),(162,0.4),(164,-0.4),(166,0.9),(168,-1.2),(170,0.1),(172,-0.6),(174,0.6),(176,-0.4),(180,0.2),(186,0.6),(190,-0.1),(194,0.5),(198,-0.2),(144,-1.5),(152,-1.4),(160,-0.8),(168,0.4),(176,-1.0),(184,0.8),(50,-0.9),(56,-0.3),(60,-0.5),(64,-0.8),(68,0.0),(70,-1.0),(72,-0.4),(74,-0.8)]
sl_autumn = [(101,-1.0),(118,-0.5),(159,-0.9),(183,-0.4),(226,0.2),(240,0.6),(250,1.3),(254,1.3),(263,2.9),(274,0.3),(314,0.0),(318,-0.9),(330,0.4),(326,-1.2)]

jp_spring = [(103,13.5),(80,9.8),(83,8.1),(87,8.1),(97,8.4),(97,7.0),(91,5.6),(131,5.9),(140,5.3),(150,6.9),(109,4.9),(104,4.3),(101,3.9),(87,4.3),(79,2.4),(205,4.6),(212,4.8),(216,5.0),(228,4.3),(238,4.4),(228,7.7),(302,10.4),(357,5.3),(262,3.0),(323,2.3),(180,3.3),(180,2.5),(195,2.8),(100,0.8),(105,1.8),(110,0.4),(114,2.6),(118,1.1),(122,0.2),(126,2.0),(130,0.6),(134,1.5),(138,2.8),(142,0.9),(146,1.7),(150,0.3),(154,1.2),(158,2.1),(162,0.5),(165,0.9),(205,0.3),(208,1.2),(212,0.6),(215,1.5),(218,0.2),(221,0.9),(224,0.4),(355,0.3),(85,0.5),(92,1.3),(190,0.7),(245,0.2)]
jp_summer = [(278,18.6),(125,15.9),(76,9.9),(91,8.8),(80,4.2),(21,4.7),(28,2.9),(19,2.2),(16,1.2),(18,0.8),(16,-0.1),(23,-0.3),(283,7.4),(309,3.3),(275,2.8),(278,2.6),(271,1.6),(238,1.7),(161,4.0),(112,1.2),(116,1.8),(120,1.0),(122,2.2),(124,1.5),(126,0.8),(128,2.4),(130,1.3),(133,1.9),(136,0.9),(138,1.6),(142,0.6),(148,1.1),(155,0.5),(160,1.4),(170,0.3),(190,0.2),(210,0.8),(215,1.4),(220,0.5),(300,0.6),(320,0.2),(74,-0.3),(80,-0.3),(86,-0.3),(92,-0.3),(98,-0.3),(104,-0.3),(110,-0.3),(118,-0.3),(126,-0.3),(134,-0.3),(142,-0.3),(150,-0.3),(158,-0.3),(166,-0.3),(174,-0.3),(182,-0.3),(190,-0.3),(198,-0.3),(206,-0.3),(214,-0.3),(222,-0.3),(230,-0.3),(238,-0.3),(246,-0.3),(254,-0.3),(262,-0.3),(270,-0.3),(278,-0.3),(286,-0.3),(294,-0.3),(302,-0.3),(310,-0.3),(318,-0.3),(326,-0.3),(334,-0.3),(342,-0.3),(350,-0.3),(355,-0.3),(100,0.3),(290,0.1)]
jp_autumn = [(5,-0.3),(9,-0.3),(12,-0.1),(41,-0.3),(52,-0.3),(329,7.4),(300,2.6),(304,2.2),(85,3.0),(92,4.1),(94,3.5),(101,0.4),(76,-0.3),(83,-0.3),(90,-0.3),(96,-0.3),(102,-0.3),(108,-0.3),(114,-0.3),(120,-0.3),(128,-0.3),(136,-0.3),(144,-0.3),(152,-0.3),(160,-0.3),(168,-0.3),(176,-0.3),(184,-0.3),(192,-0.3),(200,-0.3),(208,-0.3),(216,-0.3),(224,-0.3),(232,-0.3),(240,-0.3),(248,-0.3),(256,-0.3),(264,-0.3),(272,-0.3),(280,-0.3),(288,-0.3),(296,-0.3),(304,-0.3),(312,-0.3),(320,-0.3),(328,-0.3),(336,-0.3),(344,-0.3),(352,-0.3),(305,0.4),(312,0.7),(318,0.2),(324,0.6),(330,0.1),(336,0.5),(342,0.3),(348,0.2),(156,0.3),(176,0.1)]

jh_spring = [(64,5.8),(98,6.8),(99,6.0),(104,5.4),(108,4.2),(98,4.1),(101,3.8),(88,3.3),(121,3.0),(127,3.0),(131,2.5),(146,3.8),(237,7.2),(225,6.4),(223,3.5),(235,3.3),(247,2.9),(335,10.1),(330,6.4),(324,4.5),(326,2.9),(210,1.5),(214,0.8),(218,2.2),(222,1.2),(226,0.5),(230,2.0),(234,1.0),(238,1.7),(242,0.6),(246,2.4),(250,1.3),(254,0.4),(258,1.8),(262,0.8),(110,1.5),(135,1.0),(150,0.5),(270,0.3),(280,-0.2)]
jh_summer = [(53,-0.5),(60,0.3),(64,1.2),(68,-0.2),(72,0.8),(76,1.6),(80,0.2),(84,2.0),(86,0.9),(88,-0.3),(90,1.5),(92,2.6),(94,0.5),(96,3.0),(97,1.2),(98,4.8),(99,6.1),(99,5.5),(100,2.2),(102,0.4),(104,1.8),(106,3.1),(108,0.7),(110,2.4),(112,-0.1),(114,1.3),(116,0.4),(118,1.9),(120,-0.3),(124,0.9),(128,0.2),(132,1.4),(136,-0.4),(140,0.6),(144,1.1),(149,4.2),(152,0.0),(156,0.8),(160,-0.5),(165,3.1),(168,0.4),(172,-0.3),(176,0.9),(180,0.1),(186,-0.6),(193,1.5),(198,0.3),(204,-0.4),(210,0.7),(216,1.4),(222,0.0),(228,0.9),(234,1.8),(240,0.3),(246,1.2),(252,2.1),(258,2.9),(262,0.5),(266,1.6),(270,0.2),(276,-0.5),(282,0.6),(288,3.1),(293,3.1),(296,0.0),(302,-0.6),(308,0.4),(314,-0.3),(320,0.2),(326,-0.7),(332,0.0),(338,-0.6),(344,-0.3),(348,-0.8),(352,0.2),(355,-0.5),
             (78,1.0),(82,0.4),(85,1.4),(87,0.2),(89,2.2),(91,0.7),(93,1.6),(95,2.4),(97,0.8),(99,1.9),(101,1.0),(103,2.6),(105,0.5),(107,1.5),(109,0.2),(111,1.1),(113,0.6),(115,1.8),(117,-0.2),(119,1.0),(122,0.4),(126,1.2),(130,-0.2),(134,0.8),(138,0.3),(142,-0.3),(146,0.7),(150,0.2),(154,-0.4),(158,0.5),(162,0.0),(170,0.6),(178,-0.3),(184,0.5),(190,0.0),(196,-0.5),(202,0.4),(206,1.0),(212,0.1),(218,0.8),(224,1.5),(230,0.4),(236,1.2),(242,0.6),(248,1.7),(254,0.9),(260,1.3),(264,0.0),(268,0.8),(274,0.3),(280,-0.3),(286,0.4),(292,-0.4),(298,0.3),(304,-0.2),(312,-0.5),(318,-0.2),(324,-0.6),(330,-0.4),(336,-0.7),(342,-0.5),(350,-0.6)]
jh_autumn = [(38,-0.8),(70,-0.2),(78,0.6),(82,1.4),(86,0.0),(90,0.9),(94,1.8),(96,-0.3),(100,0.6),(103,1.3),(106,-0.1),(109,0.8),(112,1.6),(115,0.2),(118,-0.4),(121,0.7),(124,1.2),(127,-0.2),(131,2.7),(136,2.8),(133,0.5),(138,-0.5),(142,0.8),(146,0.1),(150,1.5),(154,-0.3),(158,0.6),(162,-0.6),(166,0.3),(170,1.0),(174,-0.4),(178,0.5),(182,-0.1),(186,0.7),(190,-0.5),(194,0.2),(198,1.1),(202,-0.3),(206,0.4),(210,-0.6),(214,0.9),(218,0.1),(222,-0.4),(226,0.6),(230,1.3),(234,-0.2),(238,0.4),(242,-0.6),(246,0.8),(250,0.0),(254,-0.5),(258,0.3),(262,1.0),(266,-0.3),(270,0.5),(274,-0.7),(278,0.2),(282,-0.4),(286,0.6),(290,-0.6),(294,1.5),(298,-0.2),(302,0.3),(306,-0.7),(310,0.1),(314,-0.4),(318,0.4),(322,-0.8),(326,0.2),(332,1.3),(336,-0.5),(340,0.0),(344,-0.7),(348,-0.2),(352,-0.6),(356,-0.4),
             (84,0.6),(88,1.2),(92,0.2),(98,1.1),(102,-0.4),(105,0.9),(108,0.3),(111,-0.4),(114,0.9),(117,0.4),(120,-0.1),(123,0.5),(126,0.9),(129,0.1),(135,0.4),(140,-0.2),(144,0.5),(148,-0.5),(152,0.3),(156,0.0),(160,0.4),(164,-0.3),(168,0.6),(172,0.1),(176,-0.6),(180,0.3),(184,0.0),(188,0.3),(192,-0.4),(196,0.6),(200,0.0),(204,-0.6),(208,0.2),(212,0.4),(216,-0.3),(220,0.8),(224,0.2),(228,-0.5),(232,0.6),(236,0.0),(240,0.9),(244,-0.2),(248,0.4),(252,-0.6),(256,0.6),(260,-0.1),(264,0.4),(268,-0.5),(272,0.3),(276,-0.2),(280,0.6),(284,-0.5),(288,0.0),(292,-0.3),(296,0.4),(300,-0.6),(304,0.0),(308,-0.4),(312,0.3),(316,-0.6),(320,-0.2),(324,-0.5),(328,0.0),(334,-0.7),(338,-0.3),(342,-0.6),(346,-0.4),(350,-0.5),(354,-0.6)]

PANEL_TITLES = [
    "Heart Rock Ranch-NWERN-Closed shrubland", "Big Spring-NWERN-Cropland",
    "Central Plains Experimental Range-NWERN-Grassland",
    "El Reno-NWERN-Cropland", "Holloman-NWERN-Grassland", "JER-NWERN-Open shrubland",
    "Mandan-NWERN-Cropland", "Moab-NWERN-Grassland", "Pullman-NWERN-Cropland",
    "San Luis Valley-NWERN-Open shrubland", "JER-Playa", "JER-Harrisburg-Open shrubland",
]
PANEL_DATA = [
    (hr_spring, hr_summer, hr_autumn), (bs_spring, bs_summer, bs_autumn), (cp_spring, cp_summer, cp_autumn),
    (er_spring, er_summer, er_autumn), (ho_spring, ho_summer, ho_autumn), (jn_spring, jn_summer, jn_autumn),
    (ma_spring, ma_summer, ma_autumn), (mo_spring, mo_summer, mo_autumn), (pu_spring, pu_summer, pu_autumn),
    (sl_spring, sl_summer, sl_autumn), (jp_spring, jp_summer, jp_autumn), (jh_spring, jh_summer, jh_autumn),
]

# ---------------- layout constants ----------------
FRAME_W = 318
FRAME_H = 148
STRIP_H = 21
GAP = 7
ROW_GAP = 8
TOP_PAD = 9
YLAB_W = 28
LEFT_AXIS_W = 21
BOTTOM_AXIS_H = 34
TOTAL_H = 743
LEG_W = 96
BORDER = "#7f7f7f"
PT_SIZE = 3.5


def style_axis(ax):
    ax.axis_line_color = None
    ax.major_tick_line_color = "#333333"
    ax.major_tick_out = 4
    ax.major_tick_in = 0
    ax.minor_tick_line_color = None
    ax.major_label_text_font = FONT
    ax.major_label_text_font_size = "11px"
    ax.major_label_text_color = "#4d4d4d"
    ax.major_label_standoff = 2


def make_strip(title, left, top):
    s = figure(frame_width=FRAME_W, frame_height=STRIP_H, x_range=Range1d(0, 1), y_range=Range1d(0, 1),
               x_axis_type=None, y_axis_type=None, toolbar_location=None, output_backend="svg",
               min_border_left=left, min_border_right=0, min_border_top=top, min_border_bottom=0)
    s.grid.visible = False
    s.outline_line_color = BORDER
    s.outline_line_width = 1
    s.background_fill_color = "white"
    s.add_layout(Label(x=0.5, y=0.5, text=title, text_align="center", text_baseline="middle",
                       text_font=FONT, text_font_size="11px", text_color="#1a1a1a"))
    return s


def make_panel(idx):
    r, c = divmod(idx, 3)
    left = LEFT_AXIS_W if c == 0 else GAP
    bottom_row = r == 3
    p = figure(frame_width=FRAME_W, frame_height=FRAME_H,
               x_range=Range1d(-18, 378), y_range=Range1d(-3.3, 19.7),
               x_axis_type=None, y_axis_type=None, toolbar_location=None, output_backend="svg",
               min_border_left=left, min_border_right=0, min_border_top=0,
               min_border_bottom=BOTTOM_AXIS_H if bottom_row else 0)
    p.grid.visible = False
    p.outline_line_color = BORDER
    p.outline_line_width = 1
    if c == 0:
        ya = LinearAxis(ticker=FixedTicker(ticks=Y_TICKS))
        style_axis(ya)
        p.add_layout(ya, "left")
    if bottom_row:
        xa = LinearAxis(ticker=FixedTicker(ticks=X_TICKS))
        style_axis(xa)
        if c == 1:
            xa.axis_label = "Wind direction (degrees)"
            xa.axis_label_text_font = FONT
            xa.axis_label_text_font_size = "12px"
            xa.axis_label_text_font_style = "normal"
            xa.axis_label_text_color = "#000000"
            xa.axis_label_standoff = 1
        p.add_layout(xa, "below")
    spring, summer, autumn = PANEL_DATA[idx]
    for season, pts in (("Spring", spring), ("Autumn", autumn), ("Summer", summer)):
        xs = [q[0] for q in pts]
        ys = [q[1] for q in pts]
        p.scatter(xs, ys, size=PT_SIZE, fill_color=COLORS[season], line_color=COLORS[season], line_width=0.3)
    return p


rows = []
for r in range(4):
    cells = []
    for c in range(3):
        idx = r * 3 + c
        left = LEFT_AXIS_W if c == 0 else GAP
        strip = make_strip(PANEL_TITLES[idx], left, TOP_PAD if r == 0 else ROW_GAP)
        cells.append(column(strip, make_panel(idx), spacing=0))
    rows.append(row(*cells, spacing=0))
grid = column(*rows, spacing=0)

# y-axis title
ylab = figure(width=YLAB_W, height=TOTAL_H, x_range=Range1d(0, 1), y_range=Range1d(0, 1),
              x_axis_type=None, y_axis_type=None, toolbar_location=None, output_backend="svg",
              min_border=0, outline_line_color=None)
ylab.grid.visible = False
ylab.add_layout(Label(x=18, y=TOTAL_H - 360, x_units="screen", y_units="screen", angle=90, angle_units="deg",
                      text="Standardized z\u2080 anomaly", text_align="center", text_baseline="middle",
                      text_font=FONT, text_font_size="12px", text_color="#000000"))

# legend
leg = figure(width=LEG_W, height=TOTAL_H, x_range=Range1d(0, 1), y_range=Range1d(0, 1),
             x_axis_type=None, y_axis_type=None, toolbar_location=None, output_backend="svg",
             min_border=0, outline_line_color=None)
leg.grid.visible = False
items = []
for season in SEASONS:
    rr = leg.scatter(x=[float("nan")], y=[float("nan")], size=5.5,
                     fill_color=COLORS[season], line_color=COLORS[season])
    items.append(LegendItem(label=season, renderers=[rr]))
legend = Legend(items=items, location=(20, TOTAL_H - 418), title="Season",
                title_text_font=FONT, title_text_font_size="14px", title_text_font_style="normal",
                title_text_color="#000000", title_standoff=5,
                label_text_font=FONT, label_text_font_size="11px", label_text_color="#000000",
                glyph_width=24, glyph_height=20, label_height=20, label_standoff=6, spacing=4,
                padding=0, margin=0, border_line_color=None, background_fill_alpha=0)
leg.add_layout(legend)

layout = row(ylab, grid, leg, spacing=0)

with open("out.html", "w") as f:
    f.write(file_html(layout, INLINE))
